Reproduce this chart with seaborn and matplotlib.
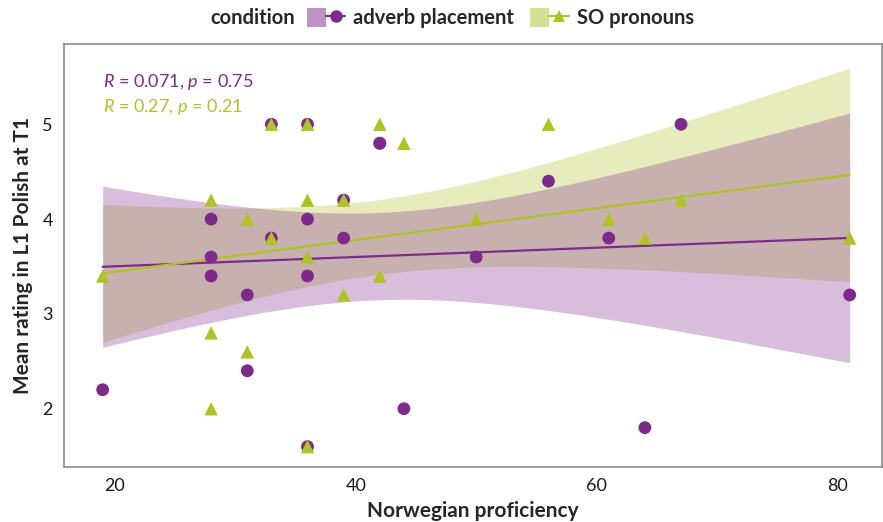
import numpy as np
import pandas as pd
import seaborn as sns
import matplotlib.pyplot as plt
from matplotlib.patches import Patch
from matplotlib.lines import Line2D
from matplotlib.legend_handler import HandlerTuple

# Norwegian proficiency vs. mean L1 Polish rating at T1, per condition
adverb_x = [19, 28, 28, 28, 31, 31, 33, 33, 36, 36, 36, 36, 39, 39, 42, 42, 44, 50, 56, 61, 64, 67, 81]
adverb_y = [2.2, 4.0, 3.6, 3.4, 3.2, 2.4, 5.0, 3.8, 5.0, 4.0, 3.4, 1.6, 4.2, 3.8, 4.8, 4.8, 2.0, 3.6, 4.4, 3.8, 1.8, 5.0, 3.2]
so_x = [19, 28, 28, 28, 31, 31, 33, 33, 36, 36, 36, 36, 39, 39, 42, 42, 44, 50, 56, 61, 64, 67, 81]
so_y = [3.4, 4.2, 2.8, 2.0, 4.0, 2.6, 5.0, 3.8, 5.0, 4.2, 3.6, 1.6, 4.2, 3.2, 5.0, 3.4, 4.8, 4.0, 5.0, 4.0, 3.8, 4.2, 3.8]

conditions = ["adverb placement", "SO pronouns"]
cor_labels = ["0.071", "0.27"]
p_labels = ["0.75", "0.21"]
x_ticks = [20, 40, 60, 80]
y_ticks = [2, 3, 4, 5]

PURPLE = "#7E2A8C"
GREEN = "#B0C326"

sns.set_theme(style="white")
plt.rcParams["font.family"] = ["Lato", "DejaVu Sans"]
plt.rcParams["mathtext.fontset"] = "custom"
plt.rcParams["mathtext.rm"] = "Lato"
plt.rcParams["mathtext.it"] = "Lato:italic"

df = pd.concat([
    pd.DataFrame({"prof": adverb_x, "rating": adverb_y, "condition": conditions[0]}),
    pd.DataFrame({"prof": so_x, "rating": so_y, "condition": conditions[1]}),
], ignore_index=True)


def t_crit(df_resid):
    try:
        from scipy import stats
        return stats.t.ppf(0.975, df_resid)
    except Exception:
        return {20: 2.086, 21: 2.080}.get(df_resid, 2.08)


def lm_band(x, y, grid):
    x = np.asarray(x, float)
    y = np.asarray(y, float)
    n = len(x)
    b1, b0 = np.polyfit(x, y, 1)
    resid = y - (b0 + b1 * x)
    s = np.sqrt(resid @ resid / (n - 2))
    sxx = ((x - x.mean()) ** 2).sum()
    se = s * np.sqrt(1 / n + (grid - x.mean()) ** 2 / sxx)
    fit = b0 + b1 * grid
    t = t_crit(n - 2)
    return fit - t * se, fit + t * se


fig = plt.figure(figsize=(8.83, 5.22), dpi=100)
ax = fig.add_axes([64 / 883, 55 / 522, 818 / 883, 423 / 522])

colors = {conditions[0]: PURPLE, conditions[1]: GREEN}
markers = {conditions[0]: "o", conditions[1]: "^"}

# confidence ribbons (SO pronouns underneath)
for cond, z in [(conditions[1], 1), (conditions[0], 2)]:
    sub = df[df.condition == cond]
    grid = np.linspace(sub.prof.min(), sub.prof.max(), 200)
    lo, hi = lm_band(sub.prof, sub.rating, grid)
    ax.fill_between(grid, lo, hi, color=colors[cond], alpha=0.3, lw=0, zorder=z)

# fitted lines
for cond in conditions:
    sub = df[df.condition == cond]
    sns.regplot(data=sub, x="prof", y="rating", scatter=False, ci=None, ax=ax,
                color=colors[cond], line_kws={"lw": 1.6, "zorder": 3})

# points
for cond, z in [(conditions[0], 4), (conditions[1], 5)]:
    sub = df[df.condition == cond]
    sns.scatterplot(data=sub, x="prof", y="rating", ax=ax, color=colors[cond],
                    marker=markers[cond], s=85 if cond == conditions[0] else 95,
                    edgecolor="none", zorder=z, legend=False)

# correlation labels
for i, cond in enumerate(conditions):
    ax.text(19, 5.445 - i * 0.265,
            f"$R$ = {cor_labels[i]}, $p$ = {p_labels[i]}",
            color=colors[cond], fontsize=13, ha="left", va="center", zorder=6)

ax.set_xlim(15.79, 83.68)
ax.set_ylim(1.385, 5.847)
ax.set_xticks(x_ticks)
ax.set_yticks(y_ticks)
ax.tick_params(axis="both", length=0, labelsize=13, colors="#1a1a1a", pad=8)
ax.set_xlabel("Norwegian proficiency", fontsize=15, fontweight="bold", labelpad=5)
ax.set_ylabel("Mean rating in L1 Polish at T1", fontsize=15, fontweight="bold", labelpad=7)
for sp in ax.spines.values():
    sp.set_visible(True)
    sp.set_color("#8a8a8a")
    sp.set_linewidth(1.2)

# legend on top
handles = []
for cond in conditions:
    handles.append((Patch(facecolor=colors[cond], alpha=0.5, edgecolor="none"),
                    Line2D([0], [0], color=colors[cond], lw=1.6, marker=markers[cond],
                           markersize=9, markeredgewidth=0)))
fig.text(210 / 883, 1 - 18 / 522, "condition", fontsize=14.5, fontweight="bold",
         ha="left", va="center")
fig.legend(handles, conditions, loc="center left", bbox_to_anchor=(307 / 883, 1 - 18 / 522),
           ncol=2, frameon=False, handler_map={tuple: HandlerTuple(ndivide=None)},
           prop={"size": 14.5, "weight": "bold"}, handlelength=1.9, handleheight=1.1,
           handletextpad=0.4, columnspacing=0.8, borderpad=0, borderaxespad=0)

fig.savefig("out.png", dpi=100, facecolor="white")
